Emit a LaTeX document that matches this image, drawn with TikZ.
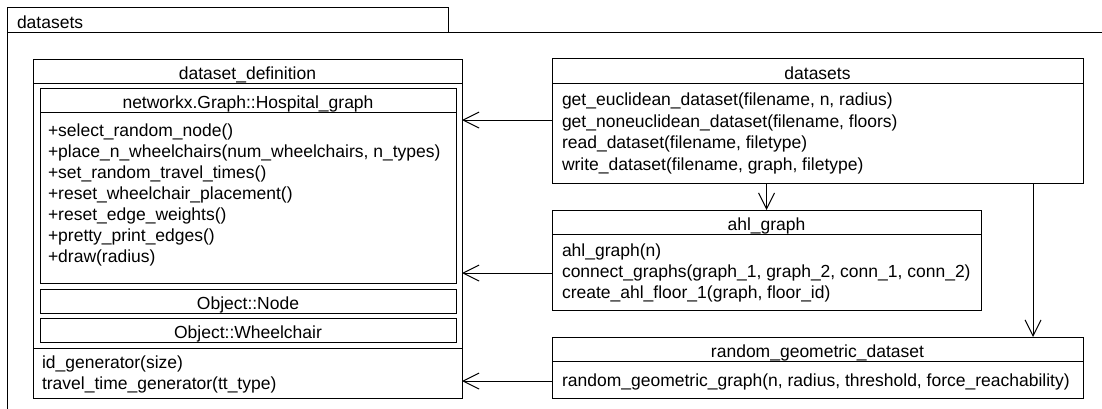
\documentclass[tikz,border=0pt]{standalone}
\usepackage{fontspec}
\setmainfont{Liberation Sans}
\usetikzlibrary{arrows.meta}
\begin{document}
\begin{tikzpicture}[x=1pt,y=-1pt,
  line width=1pt,
  box/.style={draw=black, rectangle, anchor=north west, inner sep=0pt, outer sep=0pt},
  txt/.style={inner sep=0pt, outer sep=0pt, font=\fontsize{17.5}{21}\selectfont},
  lt/.style={txt, anchor=base west},
  ct/.style={txt, anchor=base},
  arr/.style={-{Straight Barb[length=16pt,width=16pt]}}]
\useasboundingbox (0,0) rectangle (1102,408);
% package frame
\node[box, minimum width=441pt, minimum height=25pt] (tab) at (7,7) {};
\draw (tab.south west |- 0,412) -- (tab.south west) -- (1106,32);
\node[lt] (tabt) at (17,28) {datasets};
% dataset_definition
\node[box, minimum width=429pt, minimum height=339pt] (dd) at (33,59) {};
\draw (dd.west |- 0,83) -- (dd.east |- 0,83);
\node[ct] (ddt) at (dd.north |- 0,79) {dataset\_definition};
\node[box, minimum width=416pt, minimum height=195pt] (hosp) at (40,88) {};
\draw (hosp.west |- 0,112) -- (hosp.east |- 0,112);
\node[ct] (hospt) at (hosp.north |- 0,108) {networkx.Graph::Hospital\_graph};
\node[lt] (h1) at (48,136) {+select\_random\_node()};
\node[lt] (h2) at (48,157.1) {+place\_n\_wheelchairs(num\_wheelchairs, n\_types)};
\node[lt] (h3) at (48,178.2) {+set\_random\_travel\_times()};
\node[lt] (h4) at (48,199.3) {+reset\_wheelchair\_placement()};
\node[lt] (h5) at (48,220.4) {+reset\_edge\_weights()};
\node[lt] (h6) at (48,241.5) {+pretty\_print\_edges()};
\node[lt] (h7) at (48,262.6) {+draw(radius)};
\node[box, minimum width=416pt, minimum height=24pt] (onode) at (40,289) {};
\node[ct] (onodet) at (onode.north |- 0,309) {Object::Node};
\node[box, minimum width=416pt, minimum height=24pt] (wheel) at (40,318) {};
\node[ct] (wheelt) at (wheel.north |- 0,338) {Object::Wheelchair};
\draw (dd.west |- 0,348) -- (dd.east |- 0,348);
\node[lt] (d1) at (42,368) {id\_generator(size)};
\node[lt] (d2) at (42,389) {travel\_time\_generator(tt\_type)};
% datasets
\node[box, minimum width=531pt, minimum height=125pt] (dsets) at (552,58) {};
\draw (dsets.west |- 0,83) -- (dsets.east |- 0,83);
\node[ct] (dsetst) at (dsets.north |- 0,79) {datasets};
\node[lt] (s1) at (562,105.5) {get\_euclidean\_dataset(filename, n, radius)};
\node[lt] (s2) at (562,127) {get\_noneuclidean\_dataset(filename, floors)};
\node[lt] (s3) at (562,148.5) {read\_dataset(filename, filetype)};
\node[lt] (s4) at (562,170) {write\_dataset(filename, graph, filetype)};
% ahl_graph
\node[box, minimum width=429pt, minimum height=100pt] (ahl) at (552,210) {};
\draw (ahl.west |- 0,234) -- (ahl.east |- 0,234);
\node[ct] (ahlt) at (ahl.north |- 0,230) {ahl\_graph};
\node[lt] (a1) at (562,256) {ahl\_graph(n)};
\node[lt] (a2) at (562,277) {connect\_graphs(graph\_1, graph\_2, conn\_1, conn\_2)};
\node[lt] (a3) at (562,298) {create\_ahl\_floor\_1(graph, floor\_id)};
% random_geometric_dataset
\node[box, minimum width=531pt, minimum height=61pt] (rgd) at (552,337) {};
\draw (rgd.west |- 0,361) -- (rgd.east |- 0,361);
\node[ct] (rgdt) at (rgd.north |- 0,357) {random\_geometric\_dataset};
\node[lt] (r1) at (562,386.5) {random\_geometric\_graph(n, radius, threshold, force\_reachability)};
% connectors
\coordinate (ya) at (0,120);
\coordinate (yb) at (0,273);
\coordinate (yc) at (0,381);
\coordinate (xr) at (1033,0);
\draw[arr] (dsets.west |- ya) -- (dd.east |- ya);
\draw[arr] (ahl.west |- yb) -- (dd.east |- yb);
\draw[arr] (rgd.west |- yc) -- (dd.east |- yc);
\draw[arr] (dsets.south -| ahl.north) -- (ahl.north);
\draw[arr] (dsets.south -| xr) -- (rgd.north -| xr);
\end{tikzpicture}
\end{document}
